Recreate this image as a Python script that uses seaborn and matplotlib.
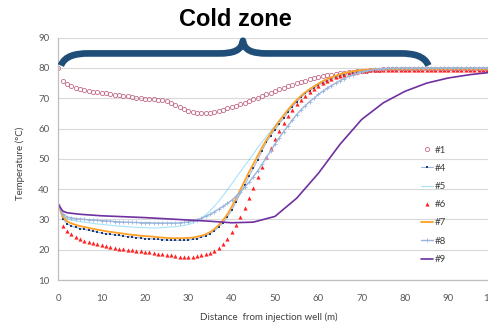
import matplotlib
matplotlib.use("Agg")
import matplotlib.pyplot as plt
from matplotlib.path import Path
from matplotlib.patches import PathPatch
import seaborn as sns
import pandas as pd

# ---- data ----
distance = list(range(0, 101))

t1 = [80.0, 75.8, 74.8, 74.1, 73.5, 73.1, 72.8, 72.5, 72.2, 72.0,
      71.8, 71.6, 71.4, 71.2, 71.0, 70.8, 70.6, 70.4, 70.2, 70.0,
      69.9, 69.8, 69.6, 69.5, 69.3, 69.0, 68.5, 67.8, 67.0, 66.3,
      65.8, 65.4, 65.1, 65.0, 65.0, 65.2, 65.5, 65.8, 66.2, 66.7,
      67.1, 67.5, 68.0, 68.6, 69.1, 69.6, 70.2, 70.7, 71.3, 71.8,
      72.4, 72.9, 73.4, 73.9, 74.4, 74.9, 75.4, 75.8, 76.3, 76.7,
      77.0, 77.3, 77.6, 77.8, 78.0, 78.2, 78.4, 78.6, 78.8, 78.9,
      79.0, 79.1, 79.2, 79.3, 79.4, 79.5, 79.5, 79.5, 79.6, 79.6,
      79.6, 79.6, 79.7, 79.7, 79.7, 79.7, 79.7, 79.7, 79.8, 79.8,
      79.8, 79.8, 79.8, 79.8, 79.8, 79.8, 79.8, 79.8, 79.8, 79.8, 79.8]

t4 = [35.0, 30.3, 28.6, 27.9, 27.4, 27.0, 26.7, 26.4, 26.1, 25.8,
      25.5, 25.3, 25.1, 24.9, 24.7, 24.5, 24.3, 24.2, 24.0, 23.9,
      23.7, 23.6, 23.5, 23.4, 23.3, 23.2, 23.1, 23.1, 23.1, 23.1,
      23.2, 23.4, 23.7, 24.1, 24.6, 25.3, 26.2, 27.4, 28.9, 30.8,
      33.0, 35.7, 38.6, 41.4, 44.2, 46.9, 49.6, 52.6, 55.4, 57.7,
      59.6, 61.6, 63.4, 65.4, 67.2, 68.8, 70.3, 71.6, 72.5, 73.4,
      74.3, 75.1, 75.8, 76.4, 76.9, 77.4, 77.8, 78.2, 78.5, 78.8,
      79.0, 79.2, 79.3, 79.4, 79.5, 79.6, 79.6, 79.7, 79.7, 79.7,
      79.8, 79.8, 79.8, 79.8, 79.8, 79.8, 79.8, 79.8, 79.8, 79.8,
      79.8, 79.8, 79.8, 79.8, 79.8, 79.8, 79.8, 79.8, 79.8, 79.8, 79.8]

t5 = [35.0, 31.5, 30.2, 29.8, 29.5, 29.3, 29.1, 28.9, 28.7, 28.5,
      28.4, 28.2, 28.1, 27.9, 27.8, 27.7, 27.6, 27.5, 27.4, 27.3,
      27.3, 27.2, 27.2, 27.2, 27.3, 27.4, 27.5, 27.6, 27.8, 28.0,
      28.3, 28.8, 29.5, 30.4, 31.5, 32.8, 34.3, 36.0, 37.8, 39.7,
      41.7, 43.7, 45.7, 47.7, 49.6, 51.6, 53.6, 55.5, 57.4, 59.2,
      61.0, 62.7, 64.4, 66.0, 67.6, 69.1, 70.6, 71.9, 73.0, 74.0,
      74.9, 75.7, 76.4, 77.0, 77.5, 78.0, 78.3, 78.6, 78.9, 79.1,
      79.3, 79.4, 79.5, 79.5, 79.6, 79.6, 79.7, 79.7, 79.7, 79.7,
      79.8, 79.8, 79.8, 79.8, 79.8, 79.8, 79.8, 79.8, 79.8, 79.8,
      79.8, 79.8, 79.8, 79.8, 79.8, 79.8, 79.8, 79.8, 79.8, 79.8, 79.8]

t6 = [35.0, 27.9, 26.2, 25.2, 24.3, 23.6, 23.0, 22.5, 22.1, 21.8,
      21.5, 21.2, 20.9, 20.6, 20.4, 20.2, 20.0, 19.9, 19.7, 19.5,
      19.3, 19.1, 18.9, 18.7, 18.5, 18.3, 18.1, 17.9, 17.7, 17.6,
      17.6, 17.7, 17.8, 18.1, 18.5, 19.0, 19.6, 20.6, 22.0, 23.6,
      25.7, 28.2, 30.8, 33.8, 37.0, 40.5, 44.0, 47.3, 50.5, 53.6,
      56.6, 59.3, 61.8, 64.0, 66.2, 68.0, 69.4, 70.8, 72.0, 73.1,
      74.0, 74.9, 75.6, 76.3, 76.9, 77.4, 77.8, 78.2, 78.5, 78.8,
      79.0, 79.1, 79.2, 79.2, 79.2, 79.3, 79.3, 79.3, 79.3, 79.3,
      79.3, 79.3, 79.3, 79.3, 79.3, 79.3, 79.3, 79.3, 79.3, 79.3,
      79.3, 79.3, 79.3, 79.3, 79.3, 79.3, 79.3, 79.3, 79.3, 79.3, 79.3]

t7 = [35.0, 31.0, 29.4, 28.7, 28.2, 27.8, 27.5, 27.2, 26.9, 26.6,
      26.4, 26.1, 25.9, 25.7, 25.5, 25.3, 25.1, 24.9, 24.8, 24.6,
      24.5, 24.4, 24.3, 24.1, 24.0, 23.9, 23.8, 23.8, 23.8, 23.8,
      23.9, 24.0, 24.3, 24.6, 25.1, 25.8, 26.8, 28.1, 29.7, 31.7,
      34.1, 36.9, 39.8, 42.7, 45.6, 48.3, 51.0, 53.7, 56.2, 58.4,
      60.5, 62.5, 64.4, 66.2, 67.9, 69.4, 70.8, 72.0, 73.0, 73.9,
      74.8, 75.6, 76.3, 76.9, 77.4, 77.9, 78.3, 78.6, 78.9, 79.1,
      79.3, 79.4, 79.5, 79.6, 79.6, 79.7, 79.7, 79.7, 79.7, 79.7,
      79.7, 79.7, 79.7, 79.7, 79.7, 79.7, 79.7, 79.7, 79.7, 79.7,
      79.7, 79.7, 79.7, 79.7, 79.7, 79.7, 79.7, 79.7, 79.7, 79.7, 79.7]

t8 = [35.0, 31.8, 30.8, 30.5, 30.3, 30.1, 30.0, 29.9, 29.8, 29.7,
      29.6, 29.5, 29.4, 29.3, 29.2, 29.1, 29.1, 29.0, 29.0, 28.9,
      28.9, 28.9, 28.8, 28.8, 28.8, 28.8, 28.8, 28.8, 28.9, 29.0,
      29.2, 29.5, 29.9, 30.4, 31.0, 31.7, 32.5, 33.4, 34.3, 35.3,
      36.3, 37.6, 39.0, 40.6, 42.3, 44.1, 46.0, 48.2, 50.4, 52.6,
      54.9, 57.0, 59.0, 60.9, 62.8, 64.6, 66.2, 67.6, 68.9, 70.0,
      71.3, 72.3, 73.3, 74.2, 75.0, 75.8, 76.5, 77.2, 77.8, 78.3,
      78.7, 79.0, 79.3, 79.5, 79.7, 79.8, 79.9, 79.9, 79.9, 80.0,
      80.0, 80.0, 80.0, 80.0, 80.0, 80.0, 80.0, 80.0, 80.0, 80.0,
      80.0, 80.0, 80.0, 80.0, 80.0, 80.0, 80.0, 80.0, 80.0, 80.0, 80.0]

x9 = [0, 1, 2, 5, 10, 15, 20, 25, 30, 35, 40, 45, 50, 55, 60, 65, 70, 75, 80, 85, 90, 95, 100]
t9 = [35.0, 32.8, 32.2, 31.7, 31.2, 30.9, 30.6, 30.2, 29.8, 29.4, 28.9, 29.1,
      31.0, 37.0, 45.2, 54.8, 63.0, 68.5, 72.3, 75.0, 76.7, 77.8, 78.6]

x_ticks = [0, 10, 20, 30, 40, 50, 60, 70, 80, 90, 100]
y_ticks = [10, 20, 30, 40, 50, 60, 70, 80, 90]

# ---- style ----
sns.set_theme(style="white")
plt.rcParams["font.family"] = ["Lato", "DejaVu Sans"]

fig = plt.figure(figsize=(4.89, 3.26), dpi=100)
ax = fig.add_axes([0.1192, 0.1411, 0.8863, 0.7433])

styles = {
    "#1": dict(color="#c26a88", marker="o", linestyle="none", markersize=3.0,
               markerfacecolor="none", markeredgecolor="#c26a88", markeredgewidth=0.6),
    "#4": dict(color="#9db8de", marker="s", linestyle="-", linewidth=0.8, markersize=2.1,
               markerfacecolor="#1f3d74", markeredgecolor="#1f3d74", markeredgewidth=0),
    "#5": dict(color="#00b0f0", linestyle="-", linewidth=0.8, alpha=0.35),
    "#6": dict(color="#ff2222", marker="^", linestyle="none", markersize=3.0,
               markerfacecolor="#ff2222", markeredgecolor="#ff2222", markeredgewidth=0),
    "#7": dict(color="#ffa024", linestyle="-", linewidth=1.3),
    "#8": dict(color="#9ab6dc", marker="+", linestyle="-", linewidth=1.0, markersize=3.5,
               markeredgecolor="#9ab6dc", markeredgewidth=0.6),
    "#9": dict(color="#7030a0", linestyle="-", linewidth=1.2),
}
series = [("#1", distance, t1), ("#4", distance, t4), ("#5", distance, t5),
          ("#6", distance, t6), ("#7", distance, t7), ("#8", distance, t8),
          ("#9", x9, t9)]

for name, xs, ys in series:
    df = pd.DataFrame({"x": xs, "y": ys})
    sns.lineplot(data=df, x="x", y="y", ax=ax, label=name, sort=False,
                 estimator=None, **styles[name])

ax.set_xlim(0, 100)
ax.set_ylim(10, 90)
ax.set_xticks(x_ticks)
ax.set_yticks(y_ticks)
ax.set_xlabel("")
ax.set_ylabel("")
ax.grid(axis="y", color="#d9d9d9", linewidth=0.8)
ax.grid(axis="x", visible=False)
ax.set_axisbelow(True)
for s in ["top", "right"]:
    ax.spines[s].set_visible(False)
for s in ["left", "bottom"]:
    ax.spines[s].set_color("#bfbfbf")
    ax.spines[s].set_linewidth(0.9)
ax.tick_params(axis="both", length=0, labelsize=7, labelcolor="#595959")
ax.tick_params(axis="y", pad=6.5)
ax.tick_params(axis="x", pad=10)

leg = ax.legend(loc="upper left", bbox_to_anchor=(0.836, 0.555), frameon=False,
                fontsize=7, handlelength=1.3, handletextpad=0.15, labelspacing=0.95,
                borderpad=0, borderaxespad=0)
for t in leg.get_texts():
    t.set_color("#404040")

# brace annotation ("Cold zone")
verts = [(0.6, 80.8), (1.5, 84.0), (4.0, 84.8), (7.0, 84.8),
         (37.0, 84.8),
         (40.5, 84.8), (42.3, 85.8), (42.6, 89.0),
         (42.9, 85.8), (44.7, 84.8), (48.2, 84.8),
         (79.0, 84.8),
         (82.0, 84.8), (84.5, 84.0), (85.4, 80.8)]
codes = [Path.MOVETO, Path.CURVE4, Path.CURVE4, Path.CURVE4,
         Path.LINETO,
         Path.CURVE4, Path.CURVE4, Path.CURVE4,
         Path.CURVE4, Path.CURVE4, Path.CURVE4,
         Path.LINETO,
         Path.CURVE4, Path.CURVE4, Path.CURVE4]
ax.add_patch(PathPatch(Path(verts, codes), facecolor="none", edgecolor="#1f4e79",
                       linewidth=4.8, capstyle="butt", joinstyle="round",
                       clip_on=False, zorder=5))

fig.text(235 / 489, 1 - 19 / 326, "Cold zone", ha="center", va="center",
         fontsize=17, fontweight="bold", family=["Liberation Sans", "DejaVu Sans"],
         color="black")
fig.text(269 / 489, 1 - 317 / 326, "Distance  from injection well (m)", ha="center",
         va="center", fontsize=7, color="#404040")
fig.text(20 / 489, 1 - 163 / 326, "Temperature (°C)", ha="center", va="center",
         rotation=90, fontsize=7, color="#404040")

fig.savefig("out.png", dpi=100)
